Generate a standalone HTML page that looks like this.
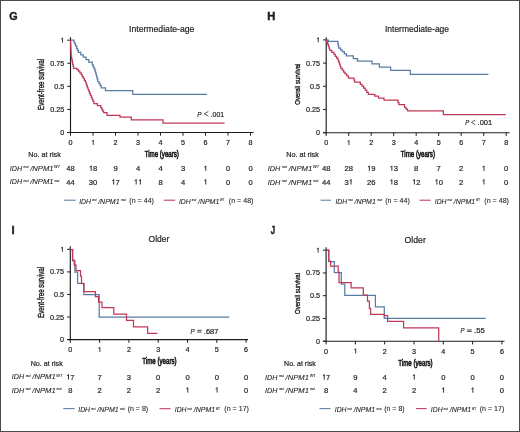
<!DOCTYPE html>
<html><head><meta charset="utf-8"><style>
html,body{margin:0;padding:0;background:#fff;}
body{width:520px;height:432px;overflow:hidden;}
svg{display:block;will-change:transform;font-family:"Liberation Sans",sans-serif;}
text{stroke:#1e1e1e;stroke-width:0.2px;}
text[font-style=italic]{stroke-width:0.08px;}
</style></head><body>
<svg width="520" height="432" viewBox="0 0 520 432">
<rect x="0" y="0" width="520" height="432" fill="#fff"/>
<rect x="0.5" y="0.5" width="519" height="431" fill="none" stroke="#4a4a4a" stroke-width="1"/>
<text transform="translate(9.32 19.50) scale(1.0128 1)" font-size="10.60" font-weight="bold" fill="#1e1e1e" style="stroke-width:0.45px">G</text>
<text transform="translate(129.07 32.30) scale(0.9216 1)" font-size="9.40" fill="#1e1e1e">Intermediate-age</text>
<line x1="70.50" y1="37.30" x2="70.50" y2="133.00" stroke="#1c1c1c" stroke-width="1.15"/>
<line x1="67.50" y1="132.50" x2="253.50" y2="132.50" stroke="#1c1c1c" stroke-width="1.15"/>
<line x1="67.30" y1="132.50" x2="70.50" y2="132.50" stroke="#1c1c1c" stroke-width="1"/>
<text x="64.30" y="135.00" font-size="7.20" text-anchor="end" fill="#1e1e1e">0</text>
<line x1="67.30" y1="109.42" x2="70.50" y2="109.42" stroke="#1c1c1c" stroke-width="1"/>
<text x="64.30" y="111.92" font-size="7.20" text-anchor="end" fill="#1e1e1e">0.25</text>
<line x1="67.30" y1="86.35" x2="70.50" y2="86.35" stroke="#1c1c1c" stroke-width="1"/>
<text x="64.30" y="88.85" font-size="7.20" text-anchor="end" fill="#1e1e1e">0.5</text>
<line x1="67.30" y1="63.28" x2="70.50" y2="63.28" stroke="#1c1c1c" stroke-width="1"/>
<text x="64.30" y="65.78" font-size="7.20" text-anchor="end" fill="#1e1e1e">0.75</text>
<line x1="67.30" y1="40.20" x2="70.50" y2="40.20" stroke="#1c1c1c" stroke-width="1"/>
<path d="M62.56 42.70V37.96 M62.82 38.09L61.20 39.10" fill="none" stroke="#1e1e1e" stroke-width="0.86"/>
<line x1="70.50" y1="132.50" x2="70.50" y2="135.70" stroke="#1c1c1c" stroke-width="1"/>
<text x="70.50" y="144.90" font-size="7.20" text-anchor="middle" fill="#1e1e1e">0</text>
<line x1="93.00" y1="132.50" x2="93.00" y2="135.70" stroke="#1c1c1c" stroke-width="1"/>
<path d="M93.27 144.90V140.16 M93.52 140.29L91.90 141.30" fill="none" stroke="#1e1e1e" stroke-width="0.86"/>
<line x1="115.50" y1="132.50" x2="115.50" y2="135.70" stroke="#1c1c1c" stroke-width="1"/>
<text x="115.50" y="144.90" font-size="7.20" text-anchor="middle" fill="#1e1e1e">2</text>
<line x1="138.00" y1="132.50" x2="138.00" y2="135.70" stroke="#1c1c1c" stroke-width="1"/>
<text x="138.00" y="144.90" font-size="7.20" text-anchor="middle" fill="#1e1e1e">3</text>
<line x1="160.50" y1="132.50" x2="160.50" y2="135.70" stroke="#1c1c1c" stroke-width="1"/>
<text x="160.50" y="144.90" font-size="7.20" text-anchor="middle" fill="#1e1e1e">4</text>
<line x1="183.00" y1="132.50" x2="183.00" y2="135.70" stroke="#1c1c1c" stroke-width="1"/>
<text x="183.00" y="144.90" font-size="7.20" text-anchor="middle" fill="#1e1e1e">5</text>
<line x1="205.50" y1="132.50" x2="205.50" y2="135.70" stroke="#1c1c1c" stroke-width="1"/>
<text x="205.50" y="144.90" font-size="7.20" text-anchor="middle" fill="#1e1e1e">6</text>
<line x1="228.00" y1="132.50" x2="228.00" y2="135.70" stroke="#1c1c1c" stroke-width="1"/>
<text x="228.00" y="144.90" font-size="7.20" text-anchor="middle" fill="#1e1e1e">7</text>
<line x1="250.50" y1="132.50" x2="250.50" y2="135.70" stroke="#1c1c1c" stroke-width="1"/>
<text x="250.50" y="144.90" font-size="7.20" text-anchor="middle" fill="#1e1e1e">8</text>
<text transform="translate(44.00 109.94) rotate(-90) scale(0.7446 1)" font-size="8.30" fill="#1e1e1e" style="stroke-width:0.38px">Event-free survival</text>
<path d="M70.50 40.00 H73.00 H73.90 V42.07 H74.80 V44.13 H75.70 V46.20 H76.60 V48.27 H77.50 V50.33 H78.40 V52.40 H80.85 V54.80 H83.30 V57.20 H86.05 V59.60 H88.80 V62.00 H92.30 V64.90 H93.20 V66.93 H94.10 V68.97 H95.00 V71.00 H95.58 V73.10 H96.16 V75.20 H96.74 V77.30 H97.32 V79.40 H97.90 V81.50 H99.03 V83.60 H100.17 V85.70 H101.30 V87.80 H105.50 V90.50 H132.80 V94.30 H206.90" fill="none" stroke="#5a7ba4" stroke-width="1.25"/>
<path d="M70.50 40.00 H70.58 V41.87 H70.66 V43.73 H70.73 V45.60 H70.81 V47.47 H70.89 V49.33 H70.97 V51.20 H71.04 V53.07 H71.12 V54.93 H71.20 V56.80 H71.58 V58.72 H71.97 V60.63 H72.35 V62.55 H72.73 V64.47 H73.12 V66.38 H73.50 V68.30 H77.00 V69.50 H78.40 V71.20 H79.80 V72.90 H81.20 V74.60 H82.25 V76.50 H83.30 V78.40 H84.35 V80.30 H85.40 V82.20 H86.08 V84.05 H86.77 V85.90 H87.45 V87.75 H88.13 V89.60 H88.82 V91.45 H89.50 V93.30 H90.38 V95.34 H91.26 V97.38 H92.14 V99.42 H93.02 V101.46 H93.90 V103.50 H97.35 V105.55 H100.80 V107.60 H101.73 V109.23 H102.67 V110.87 H103.60 V112.50 H107.00 V115.30 H120.00 V117.00 H131.30 V119.90 H163.00 V123.00 H224.60" fill="none" stroke="#bf3857" stroke-width="1.25"/>
<text transform="translate(197.26 116.60) scale(0.8657 1)" font-size="7.40" font-style="italic" fill="#1e1e1e" style="stroke-width:0.2px">P</text>
<polyline points="208.40,111.40 204.20,113.75 208.40,116.10" fill="none" stroke="#1e1e1e" stroke-width="0.72" stroke-linejoin="miter"/>
<text transform="translate(210.62 116.60) scale(0.9406 1)" font-size="7.40" fill="#1e1e1e">.001</text>
<text transform="translate(28.37 157.00) scale(0.9999 1)" font-size="7.20" fill="#1e1e1e">No. at risk</text>
<text transform="translate(144.63 157.10) scale(0.7003 1)" font-size="8.80" fill="#1e1e1e" style="stroke-width:0.65px">Time (years)</text>
<text transform="translate(9.74 170.70) scale(0.9791 1)" font-size="7.30" font-style="italic" fill="#1e1e1e">IDH</text>
<text transform="translate(23.57 168.10) scale(0.8694 1)" font-size="3.40" font-style="italic" fill="#1e1e1e">mut</text>
<text transform="translate(30.19 170.70) scale(1.0451 1)" font-size="7.30" font-style="italic" fill="#1e1e1e">/NPM1</text>
<text transform="translate(54.12 168.00) scale(1.2660 1)" font-size="3.00" font-style="italic" fill="#1e1e1e">WT</text>
<text transform="translate(9.74 184.40) scale(0.9791 1)" font-size="7.30" font-style="italic" fill="#1e1e1e">IDH</text>
<text transform="translate(23.57 181.80) scale(0.8694 1)" font-size="3.40" font-style="italic" fill="#1e1e1e">mut</text>
<text transform="translate(30.19 184.40) scale(1.0451 1)" font-size="7.30" font-style="italic" fill="#1e1e1e">/NPM1</text>
<text transform="translate(54.39 181.80) scale(0.8694 1)" font-size="3.40" font-style="italic" fill="#1e1e1e">mut</text>
<text x="70.50" y="170.90" font-size="7.60" text-anchor="middle" fill="#1e1e1e">48</text>
<text x="70.50" y="184.50" font-size="7.60" text-anchor="middle" fill="#1e1e1e">44</text>
<path d="M91.17 170.90V165.90 M91.44 166.04L89.72 167.10" fill="none" stroke="#1e1e1e" stroke-width="0.91"/>
<text x="93.00" y="170.90" font-size="7.60" fill="#1e1e1e">8</text>
<text x="93.00" y="184.50" font-size="7.60" text-anchor="middle" fill="#1e1e1e">30</text>
<text x="115.50" y="170.90" font-size="7.60" text-anchor="middle" fill="#1e1e1e">9</text>
<path d="M113.67 184.50V179.50 M113.94 179.64L112.22 180.70" fill="none" stroke="#1e1e1e" stroke-width="0.91"/>
<text x="115.50" y="184.50" font-size="7.60" fill="#1e1e1e">7</text>
<text x="138.00" y="170.90" font-size="7.60" text-anchor="middle" fill="#1e1e1e">4</text>
<path d="M136.17 184.50V179.50 M136.44 179.64L134.72 180.70" fill="none" stroke="#1e1e1e" stroke-width="0.91"/>
<path d="M140.39 184.50V179.50 M140.67 179.64L138.95 180.70" fill="none" stroke="#1e1e1e" stroke-width="0.91"/>
<text x="160.50" y="170.90" font-size="7.60" text-anchor="middle" fill="#1e1e1e">4</text>
<text x="160.50" y="184.50" font-size="7.60" text-anchor="middle" fill="#1e1e1e">8</text>
<text x="183.00" y="170.90" font-size="7.60" text-anchor="middle" fill="#1e1e1e">3</text>
<text x="183.00" y="184.50" font-size="7.60" text-anchor="middle" fill="#1e1e1e">4</text>
<path d="M205.78 170.90V165.90 M206.05 166.04L204.34 167.10" fill="none" stroke="#1e1e1e" stroke-width="0.91"/>
<path d="M205.78 184.50V179.50 M206.05 179.64L204.34 180.70" fill="none" stroke="#1e1e1e" stroke-width="0.91"/>
<text x="228.00" y="170.90" font-size="7.60" text-anchor="middle" fill="#1e1e1e">0</text>
<text x="228.00" y="184.50" font-size="7.60" text-anchor="middle" fill="#1e1e1e">0</text>
<text x="250.50" y="170.90" font-size="7.60" text-anchor="middle" fill="#1e1e1e">0</text>
<text x="250.50" y="184.50" font-size="7.60" text-anchor="middle" fill="#1e1e1e">0</text>
<line x1="63.80" y1="200.20" x2="75.80" y2="200.20" stroke="#5a7ba4" stroke-width="1.05"/>
<text transform="translate(79.15 203.60) scale(0.9889 1)" font-size="6.90" font-style="italic" fill="#1e1e1e">IDH</text>
<text transform="translate(91.92 201.20) scale(0.8204 1)" font-size="3.30" font-style="italic" fill="#1e1e1e">mut</text>
<text transform="translate(98.17 203.60) scale(1.0154 1)" font-size="6.90" font-style="italic" fill="#1e1e1e">/NPM1</text>
<text transform="translate(120.92 201.20) scale(0.9095 1)" font-size="3.30" font-style="italic" fill="#1e1e1e">mut</text>
<text transform="translate(129.32 202.80) scale(1.1287 1)" font-size="6.30" fill="#1e1e1e" style="stroke-width:0.08px">(n = 44)</text>
<line x1="163.70" y1="200.20" x2="175.20" y2="200.20" stroke="#bf3857" stroke-width="1.05"/>
<text transform="translate(178.95 203.60) scale(0.9889 1)" font-size="6.90" font-style="italic" fill="#1e1e1e">IDH</text>
<text transform="translate(191.72 201.20) scale(0.8204 1)" font-size="3.30" font-style="italic" fill="#1e1e1e">mut</text>
<text transform="translate(197.97 203.60) scale(1.0154 1)" font-size="6.90" font-style="italic" fill="#1e1e1e">/NPM1</text>
<text transform="translate(219.93 201.10) scale(0.9345 1)" font-size="3.00" font-style="italic" fill="#1e1e1e">WT</text>
<text transform="translate(228.82 202.80) scale(1.1287 1)" font-size="6.30" fill="#1e1e1e" style="stroke-width:0.08px">(n = 48)</text>
<text transform="translate(267.28 19.90) scale(1.0535 1)" font-size="10.60" font-weight="bold" fill="#1e1e1e" style="stroke-width:0.45px">H</text>
<text transform="translate(384.99 32.30) scale(0.9030 1)" font-size="9.40" fill="#1e1e1e">Intermediate-age</text>
<line x1="326.20" y1="37.20" x2="326.20" y2="133.20" stroke="#1c1c1c" stroke-width="1.15"/>
<line x1="323.20" y1="132.70" x2="509.50" y2="132.70" stroke="#1c1c1c" stroke-width="1.15"/>
<line x1="323.00" y1="132.70" x2="326.20" y2="132.70" stroke="#1c1c1c" stroke-width="1"/>
<text x="320.00" y="135.20" font-size="7.20" text-anchor="end" fill="#1e1e1e">0</text>
<line x1="323.00" y1="109.50" x2="326.20" y2="109.50" stroke="#1c1c1c" stroke-width="1"/>
<text x="320.00" y="112.00" font-size="7.20" text-anchor="end" fill="#1e1e1e">0.25</text>
<line x1="323.00" y1="86.30" x2="326.20" y2="86.30" stroke="#1c1c1c" stroke-width="1"/>
<text x="320.00" y="88.80" font-size="7.20" text-anchor="end" fill="#1e1e1e">0.5</text>
<line x1="323.00" y1="63.10" x2="326.20" y2="63.10" stroke="#1c1c1c" stroke-width="1"/>
<text x="320.00" y="65.60" font-size="7.20" text-anchor="end" fill="#1e1e1e">0.75</text>
<line x1="323.00" y1="39.90" x2="326.20" y2="39.90" stroke="#1c1c1c" stroke-width="1"/>
<path d="M318.26 42.40V37.66 M318.52 37.79L316.90 38.80" fill="none" stroke="#1e1e1e" stroke-width="0.86"/>
<line x1="326.20" y1="132.70" x2="326.20" y2="135.90" stroke="#1c1c1c" stroke-width="1"/>
<text x="326.20" y="145.10" font-size="7.20" text-anchor="middle" fill="#1e1e1e">0</text>
<line x1="348.70" y1="132.70" x2="348.70" y2="135.90" stroke="#1c1c1c" stroke-width="1"/>
<path d="M348.97 145.10V140.36 M349.22 140.49L347.60 141.50" fill="none" stroke="#1e1e1e" stroke-width="0.86"/>
<line x1="371.20" y1="132.70" x2="371.20" y2="135.90" stroke="#1c1c1c" stroke-width="1"/>
<text x="371.20" y="145.10" font-size="7.20" text-anchor="middle" fill="#1e1e1e">2</text>
<line x1="393.70" y1="132.70" x2="393.70" y2="135.90" stroke="#1c1c1c" stroke-width="1"/>
<text x="393.70" y="145.10" font-size="7.20" text-anchor="middle" fill="#1e1e1e">3</text>
<line x1="416.20" y1="132.70" x2="416.20" y2="135.90" stroke="#1c1c1c" stroke-width="1"/>
<text x="416.20" y="145.10" font-size="7.20" text-anchor="middle" fill="#1e1e1e">4</text>
<line x1="438.70" y1="132.70" x2="438.70" y2="135.90" stroke="#1c1c1c" stroke-width="1"/>
<text x="438.70" y="145.10" font-size="7.20" text-anchor="middle" fill="#1e1e1e">5</text>
<line x1="461.20" y1="132.70" x2="461.20" y2="135.90" stroke="#1c1c1c" stroke-width="1"/>
<text x="461.20" y="145.10" font-size="7.20" text-anchor="middle" fill="#1e1e1e">6</text>
<line x1="483.70" y1="132.70" x2="483.70" y2="135.90" stroke="#1c1c1c" stroke-width="1"/>
<text x="483.70" y="145.10" font-size="7.20" text-anchor="middle" fill="#1e1e1e">7</text>
<line x1="506.20" y1="132.70" x2="506.20" y2="135.90" stroke="#1c1c1c" stroke-width="1"/>
<text x="506.20" y="145.10" font-size="7.20" text-anchor="middle" fill="#1e1e1e">8</text>
<text transform="translate(299.70 104.79) rotate(-90) scale(0.7445 1)" font-size="8.10" fill="#1e1e1e" style="stroke-width:0.38px">Overall survival</text>
<path d="M326.30 40.00 H328.30 V41.30 H337.40 H337.87 V43.60 H338.33 V45.90 H338.80 V48.20 H340.50 V49.95 H342.20 V51.70 H344.30 V53.75 H346.40 V55.80 H353.30 V58.60 H357.50 V61.00 H372.00 V63.90 H379.40 V67.20 H390.60 V70.40 H410.30 V74.40 H488.40" fill="none" stroke="#5a7ba4" stroke-width="1.25"/>
<path d="M326.30 40.00 H326.98 V42.06 H327.66 V44.12 H328.34 V46.18 H329.02 V48.24 H329.70 V50.30 H331.80 V52.35 H333.90 V54.40 H335.27 V56.27 H336.63 V58.13 H338.00 V60.00 H338.70 V62.08 H339.40 V64.15 H340.10 V66.22 H340.80 V68.30 H342.20 V70.17 H343.60 V72.03 H345.00 V73.90 H346.75 V75.95 H348.50 V78.00 H353.30 H354.00 V80.10 H354.70 V82.20 H360.30 V84.30 H362.00 V86.15 H363.70 V88.00 H365.23 V90.13 H366.77 V92.27 H368.30 V94.40 H374.80 V96.00 H378.50 V98.10 H384.00 V100.00 H397.00 H397.95 V102.30 H398.90 V104.60 H404.50 V107.40 H406.00 V109.10 H407.50 V110.80 H443.40 V114.60 H505.80" fill="none" stroke="#bf3857" stroke-width="1.25"/>
<text transform="translate(465.17 125.20) scale(0.8024 1)" font-size="7.40" font-style="italic" fill="#1e1e1e" style="stroke-width:0.2px">P</text>
<polyline points="475.30,120.00 471.40,122.35 475.30,124.70" fill="none" stroke="#1e1e1e" stroke-width="0.72" stroke-linejoin="miter"/>
<text transform="translate(477.57 125.20) scale(1.0153 1)" font-size="7.40" fill="#1e1e1e">.001</text>
<text transform="translate(286.37 157.10) scale(0.9999 1)" font-size="7.20" fill="#1e1e1e">No. at risk</text>
<text transform="translate(400.83 157.30) scale(0.6961 1)" font-size="8.80" fill="#1e1e1e" style="stroke-width:0.65px">Time (years)</text>
<text transform="translate(267.83 170.90) scale(0.9974 1)" font-size="7.30" font-style="italic" fill="#1e1e1e">IDH</text>
<text transform="translate(281.91 168.30) scale(0.8868 1)" font-size="3.40" font-style="italic" fill="#1e1e1e">mut</text>
<text transform="translate(288.64 170.90) scale(1.0641 1)" font-size="7.30" font-style="italic" fill="#1e1e1e">/NPM1</text>
<text transform="translate(313.00 168.20) scale(1.2910 1)" font-size="3.00" font-style="italic" fill="#1e1e1e">WT</text>
<text transform="translate(267.83 184.50) scale(0.9974 1)" font-size="7.30" font-style="italic" fill="#1e1e1e">IDH</text>
<text transform="translate(281.91 181.90) scale(0.8868 1)" font-size="3.40" font-style="italic" fill="#1e1e1e">mut</text>
<text transform="translate(288.64 184.50) scale(1.0641 1)" font-size="7.30" font-style="italic" fill="#1e1e1e">/NPM1</text>
<text transform="translate(313.28 181.90) scale(0.8868 1)" font-size="3.40" font-style="italic" fill="#1e1e1e">mut</text>
<text x="326.20" y="170.90" font-size="7.60" text-anchor="middle" fill="#1e1e1e">48</text>
<text x="326.20" y="184.50" font-size="7.60" text-anchor="middle" fill="#1e1e1e">44</text>
<text x="348.70" y="170.90" font-size="7.60" text-anchor="middle" fill="#1e1e1e">28</text>
<text x="344.47" y="184.50" font-size="7.60" fill="#1e1e1e">3</text>
<path d="M351.09 184.50V179.50 M351.37 179.64L349.65 180.70" fill="none" stroke="#1e1e1e" stroke-width="0.91"/>
<path d="M369.37 170.90V165.90 M369.64 166.04L367.92 167.10" fill="none" stroke="#1e1e1e" stroke-width="0.91"/>
<text x="371.20" y="170.90" font-size="7.60" fill="#1e1e1e">9</text>
<text x="371.20" y="184.50" font-size="7.60" text-anchor="middle" fill="#1e1e1e">26</text>
<path d="M391.87 170.90V165.90 M392.14 166.04L390.42 167.10" fill="none" stroke="#1e1e1e" stroke-width="0.91"/>
<text x="393.70" y="170.90" font-size="7.60" fill="#1e1e1e">3</text>
<path d="M391.87 184.50V179.50 M392.14 179.64L390.42 180.70" fill="none" stroke="#1e1e1e" stroke-width="0.91"/>
<text x="393.70" y="184.50" font-size="7.60" fill="#1e1e1e">8</text>
<text x="416.20" y="170.90" font-size="7.60" text-anchor="middle" fill="#1e1e1e">8</text>
<path d="M414.37 184.50V179.50 M414.64 179.64L412.92 180.70" fill="none" stroke="#1e1e1e" stroke-width="0.91"/>
<text x="416.20" y="184.50" font-size="7.60" fill="#1e1e1e">2</text>
<text x="438.70" y="170.90" font-size="7.60" text-anchor="middle" fill="#1e1e1e">7</text>
<path d="M436.87 184.50V179.50 M437.14 179.64L435.42 180.70" fill="none" stroke="#1e1e1e" stroke-width="0.91"/>
<text x="438.70" y="184.50" font-size="7.60" fill="#1e1e1e">0</text>
<text x="461.20" y="170.90" font-size="7.60" text-anchor="middle" fill="#1e1e1e">2</text>
<text x="461.20" y="184.50" font-size="7.60" text-anchor="middle" fill="#1e1e1e">2</text>
<path d="M483.98 170.90V165.90 M484.25 166.04L482.54 167.10" fill="none" stroke="#1e1e1e" stroke-width="0.91"/>
<path d="M483.98 184.50V179.50 M484.25 179.64L482.54 180.70" fill="none" stroke="#1e1e1e" stroke-width="0.91"/>
<text x="506.20" y="170.90" font-size="7.60" text-anchor="middle" fill="#1e1e1e">0</text>
<text x="506.20" y="184.50" font-size="7.60" text-anchor="middle" fill="#1e1e1e">0</text>
<line x1="320.60" y1="200.20" x2="330.90" y2="200.20" stroke="#5a7ba4" stroke-width="1.05"/>
<text transform="translate(335.45 203.60) scale(0.9889 1)" font-size="6.90" font-style="italic" fill="#1e1e1e">IDH</text>
<text transform="translate(348.22 201.20) scale(0.8204 1)" font-size="3.30" font-style="italic" fill="#1e1e1e">mut</text>
<text transform="translate(354.47 203.60) scale(1.0154 1)" font-size="6.90" font-style="italic" fill="#1e1e1e">/NPM1</text>
<text transform="translate(377.22 201.20) scale(0.9095 1)" font-size="3.30" font-style="italic" fill="#1e1e1e">mut</text>
<text transform="translate(385.22 202.80) scale(1.1287 1)" font-size="6.30" fill="#1e1e1e" style="stroke-width:0.08px">(n = 44)</text>
<line x1="419.50" y1="200.20" x2="430.70" y2="200.20" stroke="#bf3857" stroke-width="1.05"/>
<text transform="translate(434.75 203.60) scale(0.9889 1)" font-size="6.90" font-style="italic" fill="#1e1e1e">IDH</text>
<text transform="translate(447.52 201.20) scale(0.8204 1)" font-size="3.30" font-style="italic" fill="#1e1e1e">mut</text>
<text transform="translate(453.77 203.60) scale(1.0154 1)" font-size="6.90" font-style="italic" fill="#1e1e1e">/NPM1</text>
<text transform="translate(475.73 201.10) scale(0.9345 1)" font-size="3.00" font-style="italic" fill="#1e1e1e">WT</text>
<text transform="translate(484.32 202.80) scale(1.1287 1)" font-size="6.30" fill="#1e1e1e" style="stroke-width:0.08px">(n = 48)</text>
<text transform="translate(11.48 233.90) scale(1.0613 1)" font-size="10.60" font-weight="bold" fill="#1e1e1e" style="stroke-width:0.45px">I</text>
<text transform="translate(148.51 241.50) scale(0.9072 1)" font-size="9.40" fill="#1e1e1e">Older</text>
<line x1="70.30" y1="246.20" x2="70.30" y2="340.10" stroke="#1c1c1c" stroke-width="1.15"/>
<line x1="67.30" y1="339.60" x2="248.00" y2="339.60" stroke="#1c1c1c" stroke-width="1.15"/>
<line x1="67.10" y1="339.60" x2="70.30" y2="339.60" stroke="#1c1c1c" stroke-width="1"/>
<text x="64.10" y="342.10" font-size="7.20" text-anchor="end" fill="#1e1e1e">0</text>
<line x1="67.10" y1="317.03" x2="70.30" y2="317.03" stroke="#1c1c1c" stroke-width="1"/>
<text x="64.10" y="319.53" font-size="7.20" text-anchor="end" fill="#1e1e1e">0.25</text>
<line x1="67.10" y1="294.45" x2="70.30" y2="294.45" stroke="#1c1c1c" stroke-width="1"/>
<text x="64.10" y="296.95" font-size="7.20" text-anchor="end" fill="#1e1e1e">0.5</text>
<line x1="67.10" y1="271.88" x2="70.30" y2="271.88" stroke="#1c1c1c" stroke-width="1"/>
<text x="64.10" y="274.38" font-size="7.20" text-anchor="end" fill="#1e1e1e">0.75</text>
<line x1="67.10" y1="249.30" x2="70.30" y2="249.30" stroke="#1c1c1c" stroke-width="1"/>
<path d="M62.36 251.80V247.06 M62.62 247.19L61.00 248.20" fill="none" stroke="#1e1e1e" stroke-width="0.86"/>
<line x1="70.30" y1="339.60" x2="70.30" y2="342.80" stroke="#1c1c1c" stroke-width="1"/>
<text x="70.30" y="352.00" font-size="7.20" text-anchor="middle" fill="#1e1e1e">0</text>
<line x1="99.60" y1="339.60" x2="99.60" y2="342.80" stroke="#1c1c1c" stroke-width="1"/>
<path d="M99.87 352.00V347.26 M100.12 347.39L98.50 348.40" fill="none" stroke="#1e1e1e" stroke-width="0.86"/>
<line x1="128.90" y1="339.60" x2="128.90" y2="342.80" stroke="#1c1c1c" stroke-width="1"/>
<text x="128.90" y="352.00" font-size="7.20" text-anchor="middle" fill="#1e1e1e">2</text>
<line x1="158.20" y1="339.60" x2="158.20" y2="342.80" stroke="#1c1c1c" stroke-width="1"/>
<text x="158.20" y="352.00" font-size="7.20" text-anchor="middle" fill="#1e1e1e">3</text>
<line x1="187.50" y1="339.60" x2="187.50" y2="342.80" stroke="#1c1c1c" stroke-width="1"/>
<text x="187.50" y="352.00" font-size="7.20" text-anchor="middle" fill="#1e1e1e">4</text>
<line x1="216.80" y1="339.60" x2="216.80" y2="342.80" stroke="#1c1c1c" stroke-width="1"/>
<text x="216.80" y="352.00" font-size="7.20" text-anchor="middle" fill="#1e1e1e">5</text>
<line x1="246.10" y1="339.60" x2="246.10" y2="342.80" stroke="#1c1c1c" stroke-width="1"/>
<text x="246.10" y="352.00" font-size="7.20" text-anchor="middle" fill="#1e1e1e">6</text>
<text transform="translate(43.90 317.84) rotate(-90) scale(0.7431 1)" font-size="8.30" fill="#1e1e1e" style="stroke-width:0.38px">Event-free survival</text>
<path d="M70.30 249.50 H72.50 V260.80 H74.90 V272.00 H77.60 V283.30 H83.90 V294.50 H99.20 V317.20 H229.30" fill="none" stroke="#5a7ba4" stroke-width="1.25"/>
<path d="M70.30 249.50 H72.60 V260.20 H74.20 V265.00 H76.00 V270.50 H80.50 V276.00 H81.50 V283.50 H83.90 V291.50 H95.40 V296.60 H98.50 V302.20 H102.00 V307.70 H113.80 V314.20 H126.50 V320.30 H133.50 V326.90 H147.60 V333.40 H157.30" fill="none" stroke="#bf3857" stroke-width="1.25"/>
<text transform="translate(190.56 333.50) scale(0.8446 1)" font-size="7.40" font-style="italic" fill="#1e1e1e" style="stroke-width:0.2px">P</text>
<path d="M197.20 330.35H201.70M197.20 332.05H201.70" fill="none" stroke="#1e1e1e" stroke-width="0.8"/>
<text transform="translate(203.87 333.50) scale(1.0153 1)" font-size="7.40" fill="#1e1e1e">.687</text>
<text transform="translate(30.68 365.80) scale(0.9905 1)" font-size="7.20" fill="#1e1e1e">No. at risk</text>
<text transform="translate(142.33 363.90) scale(0.7003 1)" font-size="8.80" fill="#1e1e1e" style="stroke-width:0.65px">Time (years)</text>
<text transform="translate(11.73 379.40) scale(0.9831 1)" font-size="7.30" font-style="italic" fill="#1e1e1e">IDH</text>
<text transform="translate(25.63 376.80) scale(0.8732 1)" font-size="3.40" font-style="italic" fill="#1e1e1e">mut</text>
<text transform="translate(32.26 379.40) scale(1.0494 1)" font-size="7.30" font-style="italic" fill="#1e1e1e">/NPM1</text>
<text transform="translate(56.29 376.70) scale(1.2716 1)" font-size="3.00" font-style="italic" fill="#1e1e1e">WT</text>
<text transform="translate(11.73 392.50) scale(0.9831 1)" font-size="7.30" font-style="italic" fill="#1e1e1e">IDH</text>
<text transform="translate(25.63 389.90) scale(0.8732 1)" font-size="3.40" font-style="italic" fill="#1e1e1e">mut</text>
<text transform="translate(32.26 392.50) scale(1.0494 1)" font-size="7.30" font-style="italic" fill="#1e1e1e">/NPM1</text>
<text transform="translate(56.57 389.90) scale(0.8732 1)" font-size="3.40" font-style="italic" fill="#1e1e1e">mut</text>
<path d="M68.47 379.50V374.50 M68.74 374.64L67.02 375.70" fill="none" stroke="#1e1e1e" stroke-width="0.91"/>
<text x="70.30" y="379.50" font-size="7.60" fill="#1e1e1e">7</text>
<text x="70.30" y="392.60" font-size="7.60" text-anchor="middle" fill="#1e1e1e">8</text>
<text x="99.60" y="379.50" font-size="7.60" text-anchor="middle" fill="#1e1e1e">7</text>
<text x="99.60" y="392.60" font-size="7.60" text-anchor="middle" fill="#1e1e1e">2</text>
<text x="128.90" y="379.50" font-size="7.60" text-anchor="middle" fill="#1e1e1e">3</text>
<text x="128.90" y="392.60" font-size="7.60" text-anchor="middle" fill="#1e1e1e">2</text>
<text x="158.20" y="379.50" font-size="7.60" text-anchor="middle" fill="#1e1e1e">0</text>
<text x="158.20" y="392.60" font-size="7.60" text-anchor="middle" fill="#1e1e1e">2</text>
<text x="187.50" y="379.50" font-size="7.60" text-anchor="middle" fill="#1e1e1e">0</text>
<path d="M187.78 392.60V387.60 M188.05 387.74L186.34 388.80" fill="none" stroke="#1e1e1e" stroke-width="0.91"/>
<text x="216.80" y="379.50" font-size="7.60" text-anchor="middle" fill="#1e1e1e">0</text>
<path d="M217.08 392.60V387.60 M217.35 387.74L215.64 388.80" fill="none" stroke="#1e1e1e" stroke-width="0.91"/>
<text x="246.10" y="379.50" font-size="7.60" text-anchor="middle" fill="#1e1e1e">0</text>
<text x="246.10" y="392.60" font-size="7.60" text-anchor="middle" fill="#1e1e1e">0</text>
<line x1="63.30" y1="408.60" x2="74.60" y2="408.60" stroke="#5a7ba4" stroke-width="1.05"/>
<text transform="translate(78.25 412.00) scale(0.9889 1)" font-size="6.90" font-style="italic" fill="#1e1e1e">IDH</text>
<text transform="translate(91.02 409.60) scale(0.8204 1)" font-size="3.30" font-style="italic" fill="#1e1e1e">mut</text>
<text transform="translate(97.27 412.00) scale(1.0154 1)" font-size="6.90" font-style="italic" fill="#1e1e1e">/NPM1</text>
<text transform="translate(120.02 409.60) scale(0.9095 1)" font-size="3.30" font-style="italic" fill="#1e1e1e">mut</text>
<text transform="translate(127.73 411.20) scale(1.1091 1)" font-size="6.30" fill="#1e1e1e" style="stroke-width:0.08px">(n = 8)</text>
<line x1="159.50" y1="408.70" x2="170.50" y2="408.70" stroke="#bf3857" stroke-width="1.05"/>
<text transform="translate(174.75 412.10) scale(0.9889 1)" font-size="6.90" font-style="italic" fill="#1e1e1e">IDH</text>
<text transform="translate(187.52 409.70) scale(0.8204 1)" font-size="3.30" font-style="italic" fill="#1e1e1e">mut</text>
<text transform="translate(193.77 412.10) scale(1.0154 1)" font-size="6.90" font-style="italic" fill="#1e1e1e">/NPM1</text>
<text transform="translate(215.73 409.60) scale(0.9345 1)" font-size="3.00" font-style="italic" fill="#1e1e1e">WT</text>
<text transform="translate(224.32 411.30) scale(1.1287 1)" font-size="6.30" fill="#1e1e1e" style="stroke-width:0.08px">(n = 17)</text>
<text transform="translate(270.87 234.00) scale(0.7469 1)" font-size="10.60" font-weight="bold" fill="#1e1e1e" style="stroke-width:0.45px">J</text>
<text transform="translate(404.60 242.50) scale(0.9250 1)" font-size="9.40" fill="#1e1e1e">Older</text>
<line x1="326.10" y1="247.20" x2="326.10" y2="341.70" stroke="#1c1c1c" stroke-width="1.15"/>
<line x1="323.10" y1="341.20" x2="504.50" y2="341.20" stroke="#1c1c1c" stroke-width="1.15"/>
<line x1="322.90" y1="341.20" x2="326.10" y2="341.20" stroke="#1c1c1c" stroke-width="1"/>
<text x="319.90" y="343.70" font-size="7.20" text-anchor="end" fill="#1e1e1e">0</text>
<line x1="322.90" y1="318.45" x2="326.10" y2="318.45" stroke="#1c1c1c" stroke-width="1"/>
<text x="319.90" y="320.95" font-size="7.20" text-anchor="end" fill="#1e1e1e">0.25</text>
<line x1="322.90" y1="295.70" x2="326.10" y2="295.70" stroke="#1c1c1c" stroke-width="1"/>
<text x="319.90" y="298.20" font-size="7.20" text-anchor="end" fill="#1e1e1e">0.5</text>
<line x1="322.90" y1="272.95" x2="326.10" y2="272.95" stroke="#1c1c1c" stroke-width="1"/>
<text x="319.90" y="275.45" font-size="7.20" text-anchor="end" fill="#1e1e1e">0.75</text>
<line x1="322.90" y1="250.20" x2="326.10" y2="250.20" stroke="#1c1c1c" stroke-width="1"/>
<path d="M318.16 252.70V247.96 M318.42 248.09L316.80 249.10" fill="none" stroke="#1e1e1e" stroke-width="0.86"/>
<line x1="326.10" y1="341.20" x2="326.10" y2="344.40" stroke="#1c1c1c" stroke-width="1"/>
<text x="326.10" y="353.50" font-size="7.20" text-anchor="middle" fill="#1e1e1e">0</text>
<line x1="355.40" y1="341.20" x2="355.40" y2="344.40" stroke="#1c1c1c" stroke-width="1"/>
<path d="M355.67 353.50V348.76 M355.92 348.89L354.30 349.90" fill="none" stroke="#1e1e1e" stroke-width="0.86"/>
<line x1="384.70" y1="341.20" x2="384.70" y2="344.40" stroke="#1c1c1c" stroke-width="1"/>
<text x="384.70" y="353.50" font-size="7.20" text-anchor="middle" fill="#1e1e1e">2</text>
<line x1="414.00" y1="341.20" x2="414.00" y2="344.40" stroke="#1c1c1c" stroke-width="1"/>
<text x="414.00" y="353.50" font-size="7.20" text-anchor="middle" fill="#1e1e1e">3</text>
<line x1="443.30" y1="341.20" x2="443.30" y2="344.40" stroke="#1c1c1c" stroke-width="1"/>
<text x="443.30" y="353.50" font-size="7.20" text-anchor="middle" fill="#1e1e1e">4</text>
<line x1="472.60" y1="341.20" x2="472.60" y2="344.40" stroke="#1c1c1c" stroke-width="1"/>
<text x="472.60" y="353.50" font-size="7.20" text-anchor="middle" fill="#1e1e1e">5</text>
<line x1="501.90" y1="341.20" x2="501.90" y2="344.40" stroke="#1c1c1c" stroke-width="1"/>
<text x="501.90" y="353.50" font-size="7.20" text-anchor="middle" fill="#1e1e1e">6</text>
<text transform="translate(299.80 313.89) rotate(-90) scale(0.7408 1)" font-size="8.10" fill="#1e1e1e" style="stroke-width:0.38px">Overall survival</text>
<path d="M326.20 250.20 H328.75 V261.50 H334.30 V272.70 H341.30 V284.10 H344.80 V295.40 H375.40 V306.80 H384.30 V318.30 H485.70" fill="none" stroke="#5a7ba4" stroke-width="1.25"/>
<path d="M326.20 250.20 H328.80 V261.00 H330.60 V266.00 H338.20 V272.00 H339.00 V282.50 H351.10 V287.90 H363.30 V295.00 H367.50 V301.00 H369.40 V308.30 H370.60 V314.30 H384.20 V315.50 H387.60 V321.30 H403.60 V327.80 H438.70 V341.20" fill="none" stroke="#bf3857" stroke-width="1.25"/>
<text transform="translate(460.47 332.80) scale(0.8024 1)" font-size="7.40" font-style="italic" fill="#1e1e1e" style="stroke-width:0.2px">P</text>
<path d="M467.10 329.95H471.70M467.10 331.45H471.70" fill="none" stroke="#1e1e1e" stroke-width="0.8"/>
<text transform="translate(474.06 332.80) scale(1.0370 1)" font-size="7.40" fill="#1e1e1e">.55</text>
<text transform="translate(284.09 365.80) scale(0.9780 1)" font-size="7.20" fill="#1e1e1e">No. at risk</text>
<text transform="translate(398.33 365.60) scale(0.7003 1)" font-size="8.80" fill="#1e1e1e" style="stroke-width:0.65px">Time (years)</text>
<text transform="translate(264.93 379.50) scale(0.9872 1)" font-size="7.30" font-style="italic" fill="#1e1e1e">IDH</text>
<text transform="translate(278.88 376.90) scale(0.8771 1)" font-size="3.40" font-style="italic" fill="#1e1e1e">mut</text>
<text transform="translate(285.54 379.50) scale(1.0536 1)" font-size="7.30" font-style="italic" fill="#1e1e1e">/NPM1</text>
<text transform="translate(309.67 376.80) scale(1.2771 1)" font-size="3.00" font-style="italic" fill="#1e1e1e">WT</text>
<text transform="translate(264.93 392.60) scale(0.9872 1)" font-size="7.30" font-style="italic" fill="#1e1e1e">IDH</text>
<text transform="translate(278.88 390.00) scale(0.8771 1)" font-size="3.40" font-style="italic" fill="#1e1e1e">mut</text>
<text transform="translate(285.54 392.60) scale(1.0536 1)" font-size="7.30" font-style="italic" fill="#1e1e1e">/NPM1</text>
<text transform="translate(309.94 390.00) scale(0.8771 1)" font-size="3.40" font-style="italic" fill="#1e1e1e">mut</text>
<path d="M324.27 379.60V374.60 M324.54 374.74L322.82 375.80" fill="none" stroke="#1e1e1e" stroke-width="0.91"/>
<text x="326.10" y="379.60" font-size="7.60" fill="#1e1e1e">7</text>
<text x="326.10" y="392.70" font-size="7.60" text-anchor="middle" fill="#1e1e1e">8</text>
<text x="355.40" y="379.60" font-size="7.60" text-anchor="middle" fill="#1e1e1e">9</text>
<text x="355.40" y="392.70" font-size="7.60" text-anchor="middle" fill="#1e1e1e">4</text>
<text x="384.70" y="379.60" font-size="7.60" text-anchor="middle" fill="#1e1e1e">4</text>
<text x="384.70" y="392.70" font-size="7.60" text-anchor="middle" fill="#1e1e1e">2</text>
<path d="M414.28 379.60V374.60 M414.55 374.74L412.84 375.80" fill="none" stroke="#1e1e1e" stroke-width="0.91"/>
<text x="414.00" y="392.70" font-size="7.60" text-anchor="middle" fill="#1e1e1e">2</text>
<text x="443.30" y="379.60" font-size="7.60" text-anchor="middle" fill="#1e1e1e">0</text>
<path d="M443.58 392.70V387.70 M443.85 387.84L442.14 388.90" fill="none" stroke="#1e1e1e" stroke-width="0.91"/>
<text x="472.60" y="379.60" font-size="7.60" text-anchor="middle" fill="#1e1e1e">0</text>
<path d="M472.88 392.70V387.70 M473.15 387.84L471.44 388.90" fill="none" stroke="#1e1e1e" stroke-width="0.91"/>
<text x="501.90" y="379.60" font-size="7.60" text-anchor="middle" fill="#1e1e1e">0</text>
<text x="501.90" y="392.70" font-size="7.60" text-anchor="middle" fill="#1e1e1e">0</text>
<line x1="319.50" y1="408.60" x2="330.50" y2="408.60" stroke="#5a7ba4" stroke-width="1.05"/>
<text transform="translate(334.75 412.00) scale(0.9889 1)" font-size="6.90" font-style="italic" fill="#1e1e1e">IDH</text>
<text transform="translate(347.52 409.60) scale(0.8204 1)" font-size="3.30" font-style="italic" fill="#1e1e1e">mut</text>
<text transform="translate(353.77 412.00) scale(1.0154 1)" font-size="6.90" font-style="italic" fill="#1e1e1e">/NPM1</text>
<text transform="translate(376.52 409.60) scale(0.9095 1)" font-size="3.30" font-style="italic" fill="#1e1e1e">mut</text>
<text transform="translate(384.23 411.20) scale(1.1091 1)" font-size="6.30" fill="#1e1e1e" style="stroke-width:0.08px">(n = 8)</text>
<line x1="416.00" y1="408.60" x2="426.60" y2="408.60" stroke="#bf3857" stroke-width="1.05"/>
<text transform="translate(430.85 412.00) scale(0.9889 1)" font-size="6.90" font-style="italic" fill="#1e1e1e">IDH</text>
<text transform="translate(443.62 409.60) scale(0.8204 1)" font-size="3.30" font-style="italic" fill="#1e1e1e">mut</text>
<text transform="translate(449.87 412.00) scale(1.0154 1)" font-size="6.90" font-style="italic" fill="#1e1e1e">/NPM1</text>
<text transform="translate(471.83 409.50) scale(0.9345 1)" font-size="3.00" font-style="italic" fill="#1e1e1e">WT</text>
<text transform="translate(479.72 411.20) scale(1.1287 1)" font-size="6.30" fill="#1e1e1e" style="stroke-width:0.08px">(n = 17)</text>
</svg>
</body></html>
